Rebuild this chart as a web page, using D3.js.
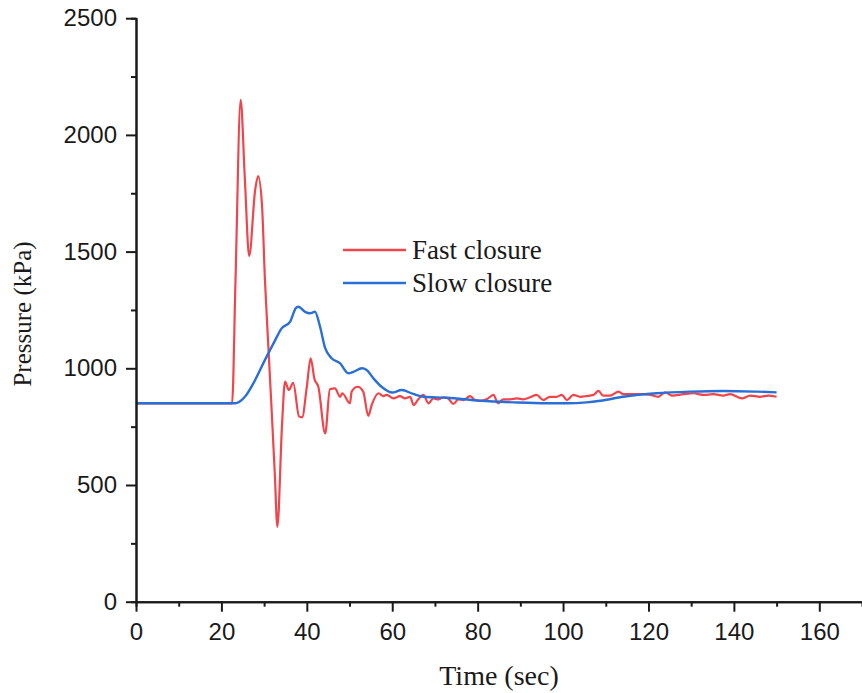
<!DOCTYPE html>
<html>
<head>
<meta charset="utf-8">
<script src="https://cdn.jsdelivr.net/npm/d3@7"></script>
<style>
  html, body { margin: 0; padding: 0; background: #fff; }
  svg { display: block; }
</style>
</head>
<body>
<svg id="chart" width="862" height="693"></svg>
<script>
// ---- data ----
const fastTime = [0, 22.5, 23.3, 24.5, 25.5, 26.5, 27.9, 28.6, 29.5, 30.2, 31.0, 31.8, 32.5, 33.1, 34.2, 34.9, 35.8, 36.8, 38.2, 38.9, 40.0, 40.9, 41.8, 42.7, 44.3, 45.4, 46.6, 47.8, 48.3, 50.1, 50.5, 51.9, 53.2, 54.4, 55.2, 56.8, 57.9, 58.7, 60.3, 61.8, 63.0, 64.2, 65.0, 66.1, 67.3, 68.5, 69.6, 70.8, 72.0, 73.1, 74.3, 75.5, 76.7, 78.2, 79.4, 80.6, 82.1, 83.7, 84.8, 86.0, 87.6, 89.2, 90.7, 92.3, 93.8, 95.4, 96.9, 98.5, 99.7, 100.9, 102.4, 104.0, 105.5, 107.1, 108.3, 109.4, 111.0, 113.0, 114.1, 116.5, 118.8, 120.4, 122.3, 123.9, 125.5, 128.2, 130.5, 132.9, 135.2, 137.5, 139.1, 141.9, 143.8, 146.1, 148.1, 150.0];
const fastPressure = [850, 850, 1378, 2150, 1807, 1481, 1764, 1824, 1700, 1376, 1090, 807, 550, 321, 760, 943, 907, 938, 793, 790, 921, 1043, 953, 921, 721, 910, 914, 878, 893, 850, 900, 921, 900, 796, 843, 893, 881, 886, 871, 881, 871, 878, 843, 867, 886, 850, 871, 867, 876, 871, 847, 867, 864, 881, 864, 861, 867, 886, 850, 867, 867, 871, 867, 876, 886, 864, 878, 878, 886, 864, 886, 878, 881, 886, 903, 883, 883, 900, 889, 889, 889, 886, 878, 897, 883, 889, 893, 886, 889, 883, 889, 871, 883, 878, 883, 878];

const slowTime = [0, 23.2, 25.5, 27.9, 30.2, 32.6, 34.1, 36.1, 37.4, 38.0, 39.6, 40.7, 41.9, 43.1, 44.3, 45.8, 47.8, 49.7, 50.9, 52.9, 54.0, 55.6, 57.5, 60.0, 62.2, 64.9, 67.3, 72.8, 80.6, 88.4, 96.2, 100.9, 105.5, 108.7, 114.1, 121.9, 129.7, 137.5, 145.4, 150.0];
const slowPressure = [850, 850, 878, 950, 1036, 1121, 1171, 1200, 1257, 1264, 1242, 1236, 1242, 1178, 1086, 1043, 1021, 979, 985, 1000, 993, 957, 921, 896, 907, 890, 878, 874, 861, 854, 850, 850, 854, 861, 878, 893, 900, 903, 900, 897];

const seriesNames = ["Fast closure", "Slow closure"];
const seriesColors = ["#f0454b", "#2a6fd6"];

const xMajorTicks = [0, 20, 40, 60, 80, 100, 120, 140, 160];
const xMinorTicks = [10, 30, 50, 70, 90, 110, 130, 150];
const yMajorTicks = [0, 500, 1000, 1500, 2000, 2500];
const yMinorTicks = [250, 750, 1250, 1750, 2250];

const xTitle = "Time (sec)";
const yTitle = "Pressure (kPa)";

// ---- drawing ----
const svg = d3.select("#chart");
const x = d3.scaleLinear().domain([0, 170]).range([136, 862]);
const y = d3.scaleLinear().domain([0, 2500]).range([601.7, 18.2]);

const sansFont = "'Liberation Sans', Arial, Helvetica, sans-serif";
const serifFont = "'Liberation Serif', 'Times New Roman', Times, serif";

// lines
const line = d3.line()
  .x(d => x(d[0]))
  .y(d => y(d[1]))
  .curve(d3.curveMonotoneX);

const fastData = fastTime.map((t, i) => [t, fastPressure[i]]);
const slowData = slowTime.map((t, i) => [t, slowPressure[i]]);

svg.append("path")
  .datum(fastData)
  .attr("d", line)
  .attr("fill", "none")
  .attr("stroke", seriesColors[0])
  .attr("stroke-width", 2.2)
  .attr("stroke-linejoin", "round");

svg.append("path")
  .datum(slowData)
  .attr("d", line)
  .attr("fill", "none")
  .attr("stroke", seriesColors[1])
  .attr("stroke-width", 2.4)
  .attr("stroke-linejoin", "round");

// axes
function styleAxis(g) {
  g.selectAll("path.domain").attr("stroke", "#1a1a1a").attr("stroke-width", 2);
  g.selectAll(".tick line").attr("stroke", "#1a1a1a").attr("stroke-width", 2);
  g.selectAll(".tick text")
    .attr("fill", "#1a1a1a")
    .style("font-family", sansFont)
    .style("font-size", "24px");
}

const xAxisMinor = svg.append("g")
  .attr("transform", `translate(0,${y(0)})`)
  .call(d3.axisBottom(x).tickValues(xMinorTicks).tickSize(5).tickFormat(""));
styleAxis(xAxisMinor);

const xAxis = svg.append("g")
  .attr("transform", `translate(0,${y(0)})`)
  .call(d3.axisBottom(x).tickValues(xMajorTicks).tickSize(10).tickSizeOuter(0).tickPadding(11).tickFormat(d3.format("d")));
styleAxis(xAxis);

const yAxisMinor = svg.append("g")
  .attr("transform", `translate(${x(0)},0)`)
  .call(d3.axisLeft(y).tickValues(yMinorTicks).tickSize(5).tickFormat(""));
styleAxis(yAxisMinor);

const yAxis = svg.append("g")
  .attr("transform", `translate(${x(0)},0)`)
  .call(d3.axisLeft(y).tickValues(yMajorTicks).tickSize(10).tickSizeOuter(0).tickPadding(9).tickFormat(d3.format("d")));
styleAxis(yAxis);

// axis titles
svg.append("text")
  .attr("x", 499)
  .attr("y", 685)
  .attr("text-anchor", "middle")
  .style("font-family", serifFont)
  .style("font-size", "28px")
  .attr("fill", "#1a1a1a")
  .text(xTitle);

svg.append("text")
  .attr("transform", `translate(31,314) rotate(-90)`)
  .attr("text-anchor", "middle")
  .style("font-family", serifFont)
  .style("font-size", "25px")
  .attr("fill", "#1a1a1a")
  .text(yTitle);

// legend
const legendY = [250, 283];
seriesNames.forEach((name, i) => {
  svg.append("line")
    .attr("x1", 343).attr("x2", 406)
    .attr("y1", legendY[i]).attr("y2", legendY[i])
    .attr("stroke", seriesColors[i])
    .attr("stroke-width", 2.4);
  svg.append("text")
    .attr("x", 412)
    .attr("y", legendY[i] + 8.5)
    .style("font-family", serifFont)
    .style("font-size", "27px")
    .attr("fill", "#1a1a1a")
    .text(name);
});
</script>
</body>
</html>
